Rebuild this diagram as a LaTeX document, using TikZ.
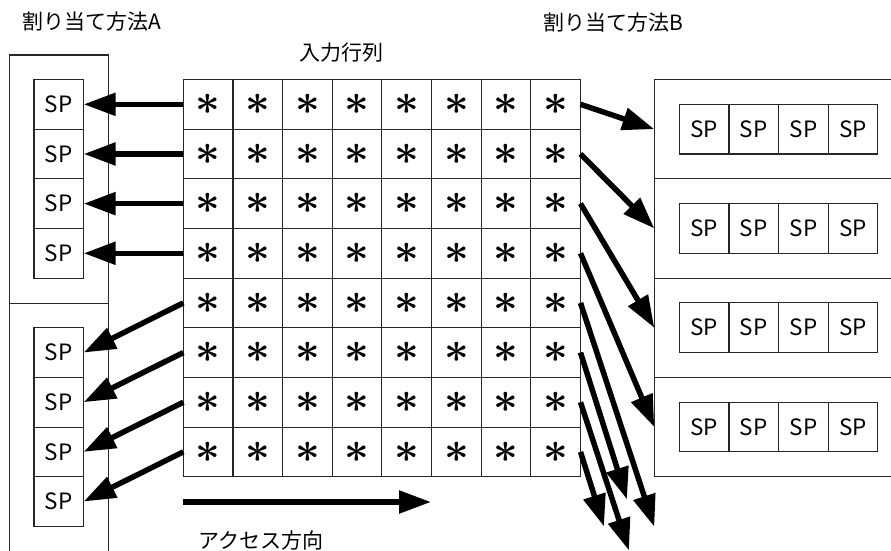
\documentclass[tikz,border=0pt]{standalone}
\usepackage{fontspec}
\usepackage{graphicx}
\setmainfont{Noto Sans CJK JP}
\usetikzlibrary{arrows.meta}
\newcommand\astglyph{\scalebox{4.3}{\boldmath$\ast$}}
\begin{document}
\begin{tikzpicture}[x=1pt,y=-1pt,
  frame/.style={draw=black!85, line width=1.1pt, inner sep=0pt, outer sep=0pt, anchor=north west},
  cell/.style={frame, minimum width=49.65pt, minimum height=49.65pt},
  spbox/.style={cell, font=\fontsize{22.5}{22.5}\selectfont},
  lbl/.style={inner sep=0pt, anchor=base, font=\fontsize{21}{21}\selectfont},
  arr/.style={line width=5.5pt, -{Triangle[length=32pt,width=22pt]}}]
\useasboundingbox (0,0) rectangle (891,551);
\clip (0,0) rectangle (891,551);
\fill[white] (0,0) rectangle (891,551);
% input matrix
\foreach \r in {1,...,8}{
  \foreach \c in {1,...,8}{
    \node[cell] (m-\r-\c) at ({183.3+(\c-1)*49.65},{79.5+(\r-1)*49.65}) {\astglyph};
  }
}
% method A groups
\node[frame, minimum width=99pt, minimum height=248.3pt] (grpA1) at (9.3,55) {};
\node[frame, minimum width=99pt, minimum height=300pt] (grpA2) at (9.3,303.3) {};
\foreach \i in {1,...,4}{
  \node[spbox] (a\i) at (34,{79.5+(\i-1)*49.65}) {SP};
}
\foreach \i in {5,...,8}{
  \node[spbox] (a\i) at (34,{79.5+\i*49.65}) {SP};
}
% method B groups
\foreach \i in {1,...,4}{
  \node[frame, minimum width=280pt, minimum height=99.3pt] (grpB\i) at (654.3,{79.5+(\i-1)*99.3}) {};
  \foreach \j in {1,...,4}{
    \node[spbox] (b-\i-\j) at ({679.3+(\j-1)*49.65},{104.3+(\i-1)*99.3}) {SP};
  }
}
% labels
\node[lbl] (labA) at (91.5,30) {割り当て方法A};
\node[lbl] (labB) at (613,31) {割り当て方法B};
\node[lbl] (labM) at (341,60) {入力行列};
\node[lbl] (labX) at (261,548) {アクセス方向};
% arrows method A
\foreach \i in {1,...,8}{
  \draw[arr] (m-\i-1.west) -- (a\i.east);
}
% arrows method B
\foreach \i in {1,...,4}{
  \draw[arr] (m-\i-8.east) -- (grpB\i.west);
}
\coordinate (t5) at (654.3,526.8);
\coordinate (t6) at (627,499.5);
\coordinate (t7) at (629,550.5);
\coordinate (t8) at (604,526.5);
\foreach \i in {5,...,8}{
  \draw[arr] (m-\i-8.east) -- (t\i);
}
% access direction
\coordinate (acs) at (183.3,502);
\coordinate (ace) at (431,502);
\draw[arr] (acs) -- (ace);
\end{tikzpicture}
\end{document}
